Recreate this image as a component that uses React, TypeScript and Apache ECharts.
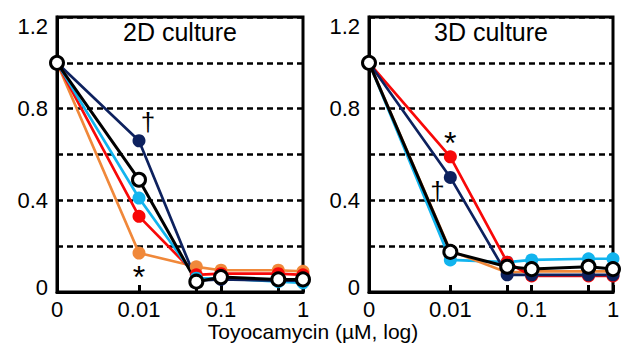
import React, { useEffect, useRef } from "react";
import * as echarts from "echarts";

// ---- data ----
const concentrations = [0, 0.01, 0.05, 0.1, 0.5, 1];
const xLabelConc = [0, 0.01, 0.1, 1];
const xTickLabels = ["0", "0.01", "0.1", "1"];
const yLabelValues = [0, 0.4, 0.8, 1.2];
const yTickLabels = ["0", "0.4", "0.8", "1.2"];

const panelTitles = ["2D culture", "3D culture"];
const axisTitle = "Toyocamycin (\u00b5M, log)";

// 2D culture
const orange2D = [1, 0.17, 0.11, 0.095, 0.095, 0.09];
const red2D = [1, 0.33, 0.075, 0.08, 0.08, 0.075];
const cyan2D = [1, 0.41, 0.06, 0.06, 0.045, 0.04];
const navy2D = [1, 0.66, 0.05, 0.055, 0.05, 0.05];
const black2D = [1, 0.49, 0.045, 0.065, 0.055, 0.055];

// 3D culture
const cyan3D = [1, 0.14, 0.13, 0.14, 0.145, 0.145];
const orange3D = [1, 0.18, 0.085, 0.09, 0.09, 0.09];
const red3D = [1, 0.59, 0.13, 0.07, 0.07, 0.07];
const navy3D = [1, 0.5, 0.075, 0.075, 0.075, 0.075];
const black3D = [1, 0.175, 0.11, 0.1, 0.11, 0.1];

const COLORS = {
  orange: "#f0883a",
  red: "#f80808",
  cyan: "#12b4ee",
  navy: "#0d215e",
  black: "#000000",
};

const FONT = "Liberation Sans, Arial, Helvetica, sans-serif";

// log-concentration position on the axis (0 is placed one decade below 0.01)
const pos = (c: number) => (c === 0 ? 0 : Math.log10(c) + 3);

type Ann = { index: number; text: string; label: any };

function makeSeries(
  values: number[],
  color: string,
  gridIdx: number,
  open: boolean,
  ann?: Ann
) {
  const data = concentrations.map((c, i) => {
    const item: any = { value: [pos(c), values[i]] };
    if (ann && ann.index === i) {
      item.label = {
        show: true,
        formatter: ann.text,
        color: "#000",
        fontFamily: FONT,
        ...ann.label,
      };
    }
    return item;
  });
  return {
    type: "line",
    xAxisIndex: gridIdx,
    yAxisIndex: gridIdx,
    data,
    clip: false,
    symbol: "circle",
    symbolSize: 13,
    lineStyle: { color, width: open ? 3 : 2.7 },
    itemStyle: open
      ? { color: "#ffffff", borderColor: "#000", borderWidth: 3 }
      : { color, borderWidth: 0 },
    label: { show: false },
    emphasis: { disabled: true },
  };
}

function makeXAxis(gridIndex: number) {
  return {
    type: "value",
    gridIndex,
    min: 0,
    max: 3,
    axisLine: { show: true, lineStyle: { color: "#000", width: 3 } },
    axisTick: {
      show: true,
      inside: true,
      length: 7,
      lineStyle: { color: "#000", width: 3 },
      customValues: concentrations.map(pos),
    },
    axisLabel: {
      customValues: xLabelConc.map(pos),
      formatter: (v: number) => {
        const i = xLabelConc.findIndex((c) => Math.abs(pos(c) - v) < 1e-6);
        return i >= 0 ? xTickLabels[i] : "";
      },
      fontSize: 22,
      lineHeight: 20,
      color: "#000",
      fontFamily: FONT,
      margin: 7,
    },
    splitLine: { show: false },
  };
}

function makeYAxis(gridIndex: number) {
  return {
    type: "value",
    gridIndex,
    min: 0,
    max: 1.2,
    interval: 0.2,
    axisLine: { show: true, lineStyle: { color: "#000", width: 3 } },
    axisTick: { show: false },
    axisLabel: {
      customValues: yLabelValues,
      formatter: (v: number) => {
        const i = yLabelValues.findIndex((y) => Math.abs(y - v) < 1e-6);
        if (i < 0) return "";
        if (i === 0) return "{lo|" + yTickLabels[i] + "}";
        if (i === yLabelValues.length - 1) return "{hi|" + yTickLabels[i] + "}";
        return yTickLabels[i];
      },
      rich: {
        lo: { fontSize: 22, fontFamily: FONT, color: "#000", padding: [0, 0, 9, 0] },
        hi: { fontSize: 22, fontFamily: FONT, color: "#000", padding: [18, 0, 0, 0] },
      },
      fontSize: 22,
      color: "#000",
      fontFamily: FONT,
      margin: 9,
    },
    splitLine: {
      show: true,
      lineStyle: { color: "#000", width: 2.5, type: [6, 4] },
    },
  };
}

export default function App() {
  const ref = useRef<HTMLDivElement>(null);

  useEffect(() => {
    if (!ref.current) return;
    const chart = echarts.init(ref.current, undefined, { renderer: "svg" });

    const grids = [
      { left: 57, top: 17, width: 246, height: 275 },
      { left: 369, top: 17, width: 244, height: 275 },
    ].map((g) => ({
      ...g,
      show: true,
      borderColor: "#000",
      borderWidth: 3,
      backgroundColor: "transparent",
      containLabel: false,
    }));

    const series = [
      makeSeries(orange2D, COLORS.orange, 0, false, {
        index: 1,
        text: "*",
        label: { position: "bottom", distance: 1, fontSize: 32, lineHeight: 32 },
      }),
      makeSeries(red2D, COLORS.red, 0, false),
      makeSeries(cyan2D, COLORS.cyan, 0, false),
      makeSeries(navy2D, COLORS.navy, 0, false, {
        index: 1,
        text: "\u2020",
        label: { position: "top", distance: 3, fontSize: 26, offset: [9, 4] },
      }),
      makeSeries(black2D, COLORS.black, 0, true),

      makeSeries(cyan3D, COLORS.cyan, 1, false),
      makeSeries(orange3D, COLORS.orange, 1, false),
      makeSeries(red3D, COLORS.red, 1, false, {
        index: 1,
        text: "*",
        label: { position: "top", distance: 0, fontSize: 32, lineHeight: 32, offset: [0, 9] },
      }),
      makeSeries(navy3D, COLORS.navy, 1, false, {
        index: 1,
        text: "\u2020",
        label: { position: "left", distance: 2, fontSize: 26, offset: [3, 14] },
      }),
      makeSeries(black3D, COLORS.black, 1, true),
    ];

    chart.setOption({
      animation: false,
      textStyle: { fontFamily: FONT, color: "#000" },
      grid: grids,
      xAxis: [makeXAxis(0), makeXAxis(1)],
      yAxis: [makeYAxis(0), makeYAxis(1)],
      series,
      graphic: [
        {
          type: "text",
          x: 180,
          y: 32,
          style: {
            text: panelTitles[0],
            fontSize: 25,
            fontFamily: FONT,
            fill: "#000",
            align: "center",
            verticalAlign: "middle",
          },
        },
        {
          type: "text",
          x: 491,
          y: 32,
          style: {
            text: panelTitles[1],
            fontSize: 25,
            fontFamily: FONT,
            fill: "#000",
            align: "center",
            verticalAlign: "middle",
          },
        },
        {
          type: "text",
          x: 313,
          y: 331,
          style: {
            text: axisTitle,
            fontSize: 21,
            lineHeight: 20,
            fontFamily: FONT,
            fill: "#000",
            align: "center",
            verticalAlign: "middle",
          },
        },
      ],
    });

    return () => chart.dispose();
  }, []);

  return (
    <div
      ref={ref}
      style={{ position: "fixed", left: 0, top: 0, width: 627, height: 348, background: "#fff" }}
    />
  );
}
